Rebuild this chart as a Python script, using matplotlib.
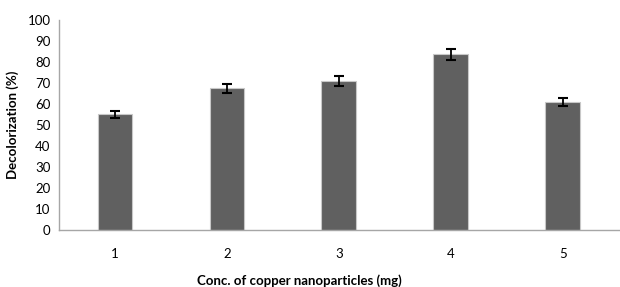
import matplotlib
matplotlib.use("Agg")
import matplotlib.pyplot as plt

# data
conc = ["1", "2", "3", "4", "5"]
decolorization = [55.2, 67.5, 71.1, 83.7, 61.1]
errors = [1.7, 2.2, 2.3, 2.7, 1.9]
yticks = [0, 10, 20, 30, 40, 50, 60, 70, 80, 90, 100]

plt.rcParams["font.family"] = ["Lato", "DejaVu Sans"]

fig = plt.figure(figsize=(6.2, 2.87), dpi=100)
ax = fig.add_axes([0.095, 0.1986, 0.903, 0.7317])

pos = list(range(1, len(conc) + 1))
ax.bar(pos, decolorization, width=0.31, color="#606060", edgecolor="#c8c8c8",
       linewidth=0.8, zorder=2)
ax.errorbar(pos, decolorization, yerr=errors, fmt="none", ecolor="black",
            elinewidth=1.3, capsize=3.5, capthick=1.5, zorder=3)

ax.set_xlim(0.5, 5.5)
ax.set_ylim(0, 100)
ax.set_yticks(yticks)
ax.set_xticks(pos)
ax.set_xticklabels(conc)
ax.tick_params(axis="both", length=0, labelsize=9.5, colors="black")
ax.tick_params(axis="x", pad=13)
ax.tick_params(axis="y", pad=6)

for side in ["top", "right"]:
    ax.spines[side].set_visible(False)
for side in ["left", "bottom"]:
    ax.spines[side].set_color("#a6a6a6")
    ax.spines[side].set_linewidth(1.0)

ax.set_ylabel("Decolorization (%)", fontsize=9.5, fontweight="bold", labelpad=6)
ax.set_xlabel("Conc. of copper nanoparticles (mg)", fontsize=9.5,
              fontweight="bold", va="center")
ax.xaxis.set_label_coords(0.43, -0.243)

fig.savefig("out.png", dpi=100)
